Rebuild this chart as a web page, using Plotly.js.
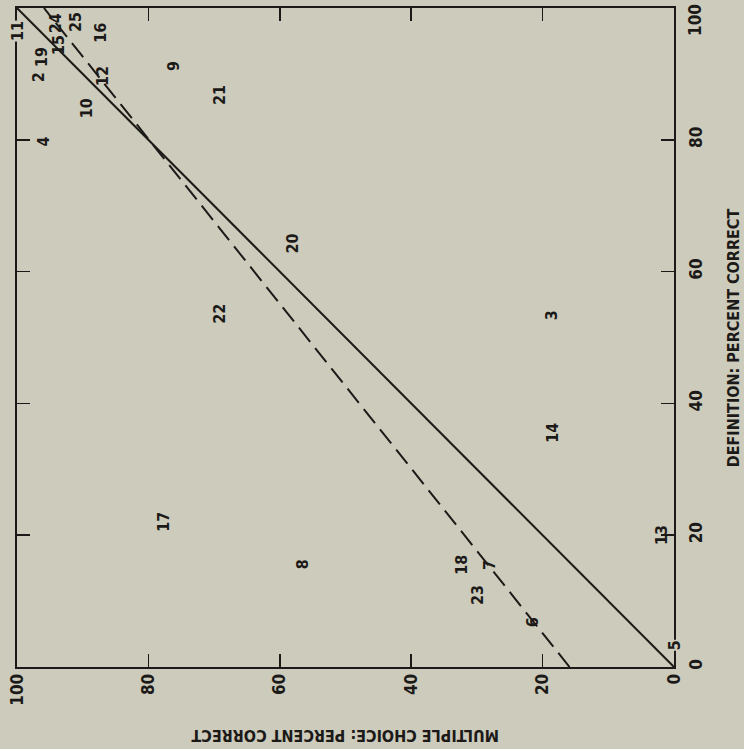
<!DOCTYPE html>
<html>
<head>
<meta charset="utf-8">
<script src="https://cdn.plot.ly/plotly-3.0.1.min.js"></script>
<style>html,body{margin:0;padding:0;background:#cdcbbb;}</style>
</head>
<body>
<div id="chart" style="width:744px;height:749px;"></div>
<script>
// Item numbers and their scores (percent correct)
var itemIds = ["24","25","16","15","19","2","12","9","10","21","4","11","22","20","3","14","17","8","18","7","23","6","13","5"];
var multipleChoice = [94.2, 91.0, 87.4, 93.6, 96.3, 96.8, 86.9, 76.1, 89.5, 69.1, 96.0, 100, 69.1, 58.1, 18.7, 18.6, 77.8, 56.6, 32.3, 28.0, 30.0, 21.6, 2.0, 0];
var definition = [97.7, 97.9, 96.2, 94.4, 92.6, 89.5, 89.7, 91.2, 84.8, 86.8, 79.8, 96.5, 53.6, 64.3, 53.4, 35.5, 22.0, 15.6, 15.5, 15.5, 10.9, 6.8, 20.0, 3.3];
// Reference lines
var equalityX = [0, 100], equalityY = [0, 100];
var fitX = [15.9, 95.9], fitY = [0, 100];
var tickVals = [0, 20, 40, 60, 80, 100];
var tickText = ["0", "20", "40", "60", "80", "100"];
var xTitle = "MULTIPLE CHOICE: PERCENT CORRECT";
var yTitle = "DEFINITION: PERCENT CORRECT";

var BG = "#cdcbbb", INK = "#1c1a18";
var FONT = "'Liberation Sans Narrow', 'DejaVu Sans Condensed', sans-serif";
var tickFont = {family: FONT, size: 17, color: INK, weight: "bold"};

var traces = [
  {x: equalityX, y: equalityY, mode: "lines", line: {color: INK, width: 2}, hoverinfo: "skip", showlegend: false},
  {x: fitX, y: fitY, mode: "lines", line: {color: INK, width: 2, dash: "18px,8px"}, hoverinfo: "skip", showlegend: false},
  {x: multipleChoice, y: definition, mode: "markers", marker: {size: 1, color: "rgba(0,0,0,0)"}, hoverinfo: "text", text: itemIds, showlegend: false}
];

var annotations = itemIds.map(function(id, i) {
  var onEdge = (multipleChoice[i] === 100 || multipleChoice[i] === 0);
  return {
    x: multipleChoice[i], y: definition[i], xref: "x", yref: "y",
    xanchor: "center", yanchor: "middle",
    text: id, showarrow: false, textangle: -90,
    font: {family: FONT, size: 16, color: INK, weight: "bold"},
    bgcolor: onEdge ? BG : "rgba(0,0,0,0)", borderpad: 0
  };
});
annotations.push({
  x: 0.5, y: -0.103, xref: "paper", yref: "paper", xanchor: "center", yanchor: "middle",
  text: xTitle, showarrow: false,
  textangle: 180, font: {family: FONT, size: 16, color: INK, weight: "bold"}
});
annotations.push({
  x: 1.091, y: 0.5, xref: "paper", yref: "paper", xanchor: "center", yanchor: "middle",
  text: yTitle, showarrow: false,
  textangle: -90, font: {family: FONT, size: 16, color: INK, weight: "bold"}
});
// Top tick label of the right axis sits just below its tick (as in the original)
annotations.push({
  x: 1, y: tickVals[5], xref: "paper", yref: "y", xanchor: "center", yanchor: "middle",
  xshift: 21, yshift: -12, text: tickText[5], showarrow: false, textangle: -90, font: tickFont
});

var axisCommon = {
  tickvals: tickVals, ticks: "inside", ticklen: 13, tickwidth: 1.5, tickcolor: INK,
  showline: true, linewidth: 2, linecolor: INK, mirror: "allticks",
  showgrid: false, zeroline: false, tickangle: -90, tickfont: tickFont
};

var layout = {
  width: 744, height: 749,
  margin: {l: 17, r: 70, t: 8, b: 82},
  paper_bgcolor: BG, plot_bgcolor: BG,
  xaxis: Object.assign({}, axisCommon, {range: [100, 0], side: "bottom", ticklabelstandoff: -2,
    ticktext: tickText}),
  yaxis: Object.assign({}, axisCommon, {range: [0, 100], side: "right", ticklabelstandoff: 6,
    ticktext: tickText.slice(0, 5).concat([""])}),
  annotations: annotations,
  showlegend: false
};

Plotly.newPlot("chart", traces, layout, {displayModeBar: false, staticPlot: true});
</script>
</body>
</html>
